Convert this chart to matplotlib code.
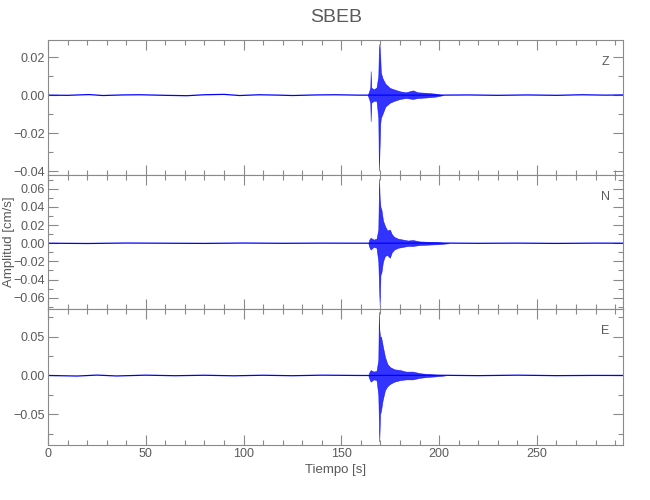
import matplotlib
matplotlib.use("Agg")
import matplotlib.pyplot as plt
from matplotlib.ticker import MultipleLocator

plt.rcParams['font.family'] = ['Liberation Sans', 'DejaVu Sans']

title = "SBEB"
channels = ["Z", "N", "E"]
ylims = [(-0.042, 0.029), (-0.0725, 0.0752), (-0.0896, 0.0857)]
major_steps = [0.02, 0.02, 0.05]
minor_steps = [0.01, 0.01, 0.025]

# slow background wander of each trace (s, cm/s)
z_bg_t = [0, 10, 21, 28, 38, 47, 60, 71, 80, 90, 98, 108, 118, 125, 137, 147, 159,
          200, 215, 230, 245, 260, 273, 285, 294]
z_bg_v = [0.0, -0.0001, 0.0003, -0.0002, 0.0001, 0.0002, -0.0001, -0.0003, 0.0002, 0.0004,
          -0.0002, 0.0002, 0.0, -0.0002, 0.0001, 0.0002, 0.0,
          0.0, 0.0001, -0.0001, 0.0001, -0.0001, 0.0002, 0.0, 0.0001]
n_bg_t = [0, 20, 40, 60, 80, 100, 120, 140, 160, 200, 220, 240, 260, 280, 294]
n_bg_v = [0.0, -0.0003, 0.0002, 0.0, -0.0002, 0.0002, -0.0001, 0.0001, 0.0,
          0.0002, -0.0001, 0.0001, -0.0002, 0.0001, 0.0]
e_bg_t = [0, 15, 25, 35, 50, 65, 80, 95, 110, 125, 140, 160, 200, 220, 240, 260, 280, 294]
e_bg_v = [0.0, -0.0007, 0.0005, -0.0006, 0.0004, -0.0003, 0.0003, -0.0004, 0.0003,
          -0.0003, 0.0004, 0.0, 0.0003, -0.0002, 0.0004, -0.0002, 0.0001, 0.0]

# event envelope (time, upper, lower)
z_ev_t = [163.5, 164.2, 164.8, 165.0, 165.3, 166.5, 168.0, 168.9, 169.2, 169.5, 169.9,
          170.2, 171.0, 172.5, 174.8, 177.0, 180.0, 183.0, 186.6, 189.0, 193.7, 198.0, 202.0]
z_ev_up = [0.0, 0.002, 0.004, 0.0126, 0.004, 0.003, 0.004, 0.010, 0.024, 0.027, 0.020,
           0.012, 0.009, 0.006, 0.0038, 0.003, 0.002, 0.0015, 0.0025, 0.0015, 0.0012, 0.0008, 0.0]
z_ev_lo = [0.0, -0.002, -0.004, -0.0137, -0.004, -0.003, -0.003, -0.012, -0.0397, -0.030, -0.015,
           -0.012, -0.010, -0.006, -0.004, -0.003, -0.002, -0.0015, -0.002, -0.0015, -0.0012, -0.0008, 0.0]

n_ev_t = [163.8, 164.3, 165.0, 166.5, 168.0, 168.9, 169.3, 169.6, 170.0, 170.5, 171.3,
          172.3, 173.5, 174.8, 175.8, 177.0, 179.0, 181.5, 184.0, 186.6, 190.0, 195.0, 200.0, 205.0]
n_ev_up = [0.0, 0.004, 0.006, 0.004, 0.005, 0.015, 0.071, 0.050, 0.040, 0.037, 0.025,
           0.019, 0.014, 0.015, 0.010, 0.007, 0.005, 0.004, 0.003, 0.0035, 0.002, 0.0015, 0.001, 0.0]
n_ev_lo = [0.0, -0.004, -0.007, -0.004, -0.005, -0.020, -0.050, -0.068, -0.035, -0.032, -0.020,
           -0.014, -0.013, -0.016, -0.010, -0.007, -0.005, -0.004, -0.003, -0.003, -0.002, -0.0015, -0.001, 0.0]

e_ev_t = [163.8, 164.3, 165.0, 166.5, 168.0, 168.9, 169.2, 169.4, 169.8, 170.3, 171.1,
          172.3, 173.5, 174.8, 177.0, 180.0, 183.0, 186.6, 190.0, 193.6, 198.0, 203.0]
e_ev_up = [0.0, 0.004, 0.007, 0.005, 0.006, 0.020, 0.082, 0.060, 0.050, 0.050, 0.039,
           0.024, 0.015, 0.011, 0.008, 0.007, 0.005, 0.005, 0.003, 0.002, 0.0012, 0.0]
e_ev_lo = [0.0, -0.004, -0.008, -0.005, -0.006, -0.025, -0.060, -0.085, -0.050, -0.045, -0.032,
           -0.019, -0.014, -0.011, -0.008, -0.006, -0.005, -0.005, -0.003, -0.002, -0.0012, 0.0]

bg = [(z_bg_t, z_bg_v), (n_bg_t, n_bg_v), (e_bg_t, e_bg_v)]
events = [(z_ev_t, z_ev_up, z_ev_lo), (n_ev_t, n_ev_up, n_ev_lo), (e_ev_t, e_ev_up, e_ev_lo)]

GREY = "#8a8a8a"
TXT = "#5a5a5a"


def fmt_amp(v, pos):
    s = "%.2f" % v
    if s == "-0.00":
        s = "0.00"
    return s.replace("-", "\u2212")


def style_axis(ax, ylim, major, minor, last):
    ax.set_xlim(0, 294)
    ax.set_ylim(*ylim)
    ax.xaxis.set_major_locator(MultipleLocator(50))
    ax.xaxis.set_minor_locator(MultipleLocator(10))
    ax.yaxis.set_major_locator(MultipleLocator(major))
    ax.yaxis.set_minor_locator(MultipleLocator(minor))
    ax.yaxis.set_major_formatter(fmt_amp)
    for s in ax.spines.values():
        s.set_color(GREY)
        s.set_linewidth(0.8)
    ax.tick_params(which="both", direction="in", top=True, right=True,
                   color=GREY, labelcolor=TXT, labelsize=9, width=0.8, pad=2)
    ax.tick_params(which="major", length=7)
    ax.tick_params(which="minor", length=3.5)
    if not last:
        ax.tick_params(labelbottom=False)


def main():
    fig = plt.figure(figsize=(6.5, 5), dpi=100)
    bottoms = [0.65, 0.382, 0.11]
    heights = [0.27, 0.268, 0.272]
    for i in range(3):
        ax = fig.add_axes([0.0738, bottoms[i], 0.8846, heights[i]])
        t, v = bg[i]
        ax.plot(t, v, color="#0000ff", lw=0.9)
        et, up, lo = events[i]
        ax.fill_between(et, lo, up, color="#0000ff", alpha=0.8, lw=0.4)
        style_axis(ax, ylims[i], major_steps[i], minor_steps[i], i == 2)
        ax.text(0.969, 0.837, channels[i], transform=ax.transAxes, color=TXT,
                fontsize=9, ha="center", va="center")
        if i == 2:
            ax.set_xlabel("Tiempo [s]", color=TXT, fontsize=9.5, labelpad=3)
    fig.text(0.014, 0.516, "Amplitud [cm/s]", color=TXT, fontsize=9.5,
             rotation=90, ha="center", va="center")
    fig.text(0.517, 0.966, title, color=TXT, fontsize=14, ha="center", va="center")
    fig.savefig("out.png", dpi=100)


if __name__ == "__main__":
    main()
